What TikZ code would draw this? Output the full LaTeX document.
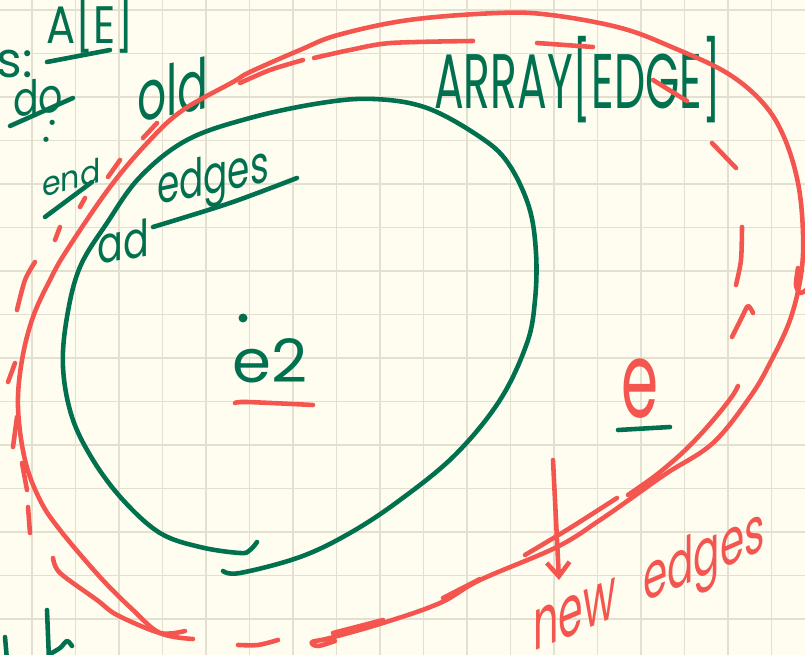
\documentclass[tikz,border=0pt]{standalone}
\usepackage{fontspec}
\newfontfamily\handfont{Poppins}
\usepackage{tikz}
\usetikzlibrary{arrows.meta}

\definecolor{paper}{HTML}{FEFDF0}
\definecolor{gridgray}{HTML}{E3E0D1}
\definecolor{inkgreen}{HTML}{00704E}
\definecolor{inkred}{HTML}{F4554F}

\tikzstyle{gridline} = [draw=gridgray, line width=0.8pt]
\tikzstyle{pen} = [line width=2.6pt, line cap=round, line join=round]
\tikzstyle{greenpen} = [pen, draw=inkgreen]
\tikzstyle{redpen} = [pen, draw=inkred]
\tikzstyle{greentext} = [text=inkgreen, inner sep=0pt, anchor=base west]
\tikzstyle{redtext} = [text=inkred, inner sep=0pt, anchor=base west]
\newcommand{\handsize}[1]{\handfont\fontsize{#1}{#1}\selectfont}

\begin{document}
\begin{tikzpicture}[x=0.02cm,y=-0.02cm]

	% Paper and squared grid
	\fill[paper] (0,0) rectangle (805,655);
	\useasboundingbox (0,0) rectangle (805,655);
	\foreach \gx in {32,75.5,...,805}
	\draw[gridline] (\gx,0) -- (\gx,655);
	\foreach \gy in {10,53.5,...,655}
	\draw[gridline] (0,\gy) -- (805,\gy);

	% Notes in the top left corner
	\node[greentext] (slbl) at (-4,78) {\handsize{28}s:};
	\node[greentext, xscale=0.82] (aelbl) at (46,44) {\handsize{30}A[E]};
	\node[greentext, yslant=0.14, xscale=0.8] (dolbl) at (13,118) {\handsize{27}do};
	\node[text=inkgreen, inner sep=0pt, rotate=-20] (dots) at (50,131) {\handsize{24}:};
	\node[greentext, yslant=0.27, xscale=0.9] (endlbl) at (42,198) {\handsize{19}end};
	\node[greentext, yslant=0.21, xscale=0.65] (oldlbl) at (137,123) {\handsize{40}old};
	\draw[greenpen] (47,62) -- (110,50);
	\draw[greenpen] (10,126) -- (73,98);
	\draw[greenpen] (45,217) -- (92,182);

	% The old edges
	\draw[greenpen] plot[smooth, tension=0.6] coordinates {(223,571) (240,573) (300,557) (350,533) (400,500) (455,455) (500,400) (527,343) (535,300) (536,253) (529,207) (508,163) (480,137) (427,108) (374,99) (321,103) (250,118) (187,140) (140,177) (107,223) (80,267) (67,317) (63,367) (72,417) (93,460) (123,500) (160,533) (200,547) (240,553) (250,550) (257,542)};
	\node[greentext, yslant=0.18, xscale=0.75] (adlbl) at (97,265) {\handsize{29}ad};
	\node[greentext, yslant=0.21, xscale=0.68] (edgeslbl) at (157,205) {\handsize{30}edges};
	\draw[greenpen] plot[smooth] coordinates {(153,227) (230,203) (297,178)};
	\fill[inkgreen] (243,318) circle[radius=4.5];
	\node[greentext, xscale=1.05] (elbl) at (232,382) {\handsize{34}e2};
	\draw[redpen] plot[smooth] coordinates {(235,403) (247,402) (313,405)};

	% The whole array
	\node[greentext, xscale=0.57] (arraylbl) at (434,109) {\handsize{44}ARRAY[EDGE]};
	\draw[redpen] plot[smooth, tension=0.6] coordinates {(193,639) (160,633) (133,610) (100,577) (60,530) (40,500) (25,460) (18,407) (22,360) (33,317) (50,280) (67,250) (110,187) (150,140) (183,110) (233,82) (250,72) (300,50) (338,35) (409,20) (498,13) (551,15) (621,28) (674,48) (727,73) (763,103) (784,137) (798,183) (803,233) (801,275) (790,320) (770,363) (750,397) (713,443) (667,473) (633,497) (600,520) (557,547) (480,580) (440,603) (383,623) (330,638) (312,642) (318,646) (335,641)};

	% Dashed copy of the loop
	\draw[redpen] plot[smooth] coordinates {(53,558) (60,573) (97,600) (117,615) (160,633) (185,631)};
	\draw[redpen] plot[smooth] coordinates {(35,262) (25,280) (17,310)};
	\draw[redpen] plot[smooth] coordinates {(240,83) (270,70) (303,60)};
	\draw[redpen] plot[smooth] coordinates {(314,58) (350,50) (391,43) (473,41)};
	\draw[redpen] plot[smooth] coordinates {(742,227) (741,260) (736,285)};
	\draw[redpen] plot[smooth] coordinates {(732,337) (742,317) (748,306) (753,313)};
	\draw[redpen] plot[smooth] coordinates {(738,386) (733,395) (720,412) (700,435) (680,455) (655,476) (628,495)};
	\draw[redpen] plot[smooth] coordinates {(525,555) (570,528) (617,498)};
	\draw[redpen] plot[smooth] coordinates {(238,645) (258,645) (278,640)};
	\foreach \from/\to in {{(28,507)}/{(30,533)}, {(22,463)}/{(27,490)}, {(17,417)}/{(13,447)}, {(15,363)}/{(8,382)}, {(60,227)}/{(55,240)}, {(85,198)}/{(80,207)}, {(120,160)}/{(108,177)}, {(157,123)}/{(143,138)}, {(537,43)}/{(593,47)}, {(653,80)}/{(687,101)}, {(712,143)}/{(736,168)}, {(443,598)}/{(480,579)}, {(333,633)}/{(383,620)}}
	\draw[redpen] \from -- \to;

	% The new edges
	\node[redtext, xscale=0.85, yscale=1.5] (newelbl) at (621,418) {\handsize{40}e};
	\draw[greenpen] (618,430) -- (670,427);
	\coordinate (arrowtail) at (553,460);
	\coordinate (arrowtip) at (559,580);
	\draw[redpen, -{Straight Barb[length=8pt,width=13pt]}] (arrowtail) -- (arrowtip);
	\node[redtext, yslant=0.42, xscale=0.55] (newlbl) at (533,652) {\handsize{41}new};
	\node[redtext, yslant=0.44, xscale=0.6] (newedgeslbl) at (643,603) {\handsize{37}edges};

	% Cut off strokes at the borders
	\draw[redpen] plot[smooth] coordinates {(798,268) (796,285) (800,293) (806,290)};
	\draw[greenpen] (5,637) -- (7,660);
	\draw[greenpen] (47,610) -- (49,660);
	\draw[greenpen] plot[smooth] coordinates {(50,654) (60,648) (67,641) (72,646)};

\end{tikzpicture}
\end{document}
